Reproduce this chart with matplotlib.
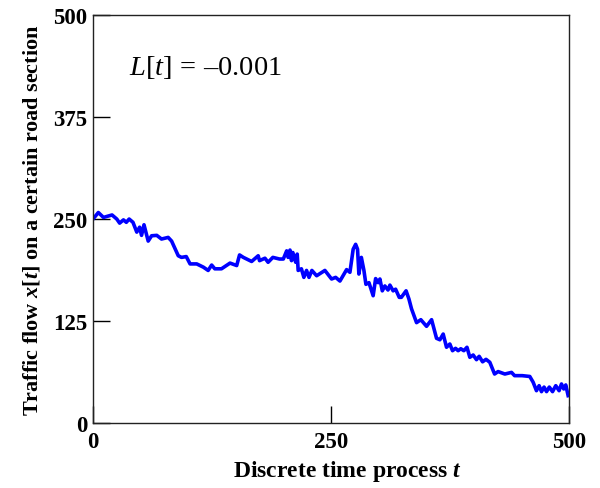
import matplotlib
matplotlib.use("Agg")
import matplotlib.pyplot as plt

plt.rcParams['font.family'] = ['Liberation Serif', 'DejaVu Serif']
plt.rcParams['mathtext.fontset'] = 'custom'
plt.rcParams['mathtext.rm'] = 'Liberation Serif'
plt.rcParams['mathtext.it'] = 'Liberation Serif:italic'
plt.rcParams['mathtext.bf'] = 'Liberation Serif:bold'
plt.rcParams['mathtext.bfit'] = 'Liberation Serif:italic:bold'

# traffic flow
t = [0, 5.6, 11, 20, 25, 28, 32, 35, 38, 42, 46, 49, 51, 53.6, 58, 61.6, 67, 72, 79, 82.6,
     89.6, 93, 98, 102, 109, 116, 121, 124.7, 128, 135, 144, 151, 154, 158, 166.7, 173.6,
     175, 180.7, 184, 189, 196, 200, 203.5, 205, 207, 208.6, 210, 213, 214.6, 215.6, 219,
     221.6, 224.4, 227, 230, 235, 243.7, 250.7, 255, 259.5, 266.5, 270, 273.4, 276, 278,
     279.4, 282, 284.7, 286.8, 290, 294.4, 297, 299.7, 301.5, 304, 306.7, 310, 312, 315.4,
     318, 321.8, 324, 329, 332, 334.7, 340, 344.5, 350.5, 355.8, 361, 364.5, 368, 371.5,
     375, 377.8, 381, 383.7, 386.5, 389.7, 393, 396, 399.5, 403, 405.8, 409.4, 413, 417,
     422, 425.7, 432.8, 439.8, 443, 451, 459, 462.5, 466, 468.8, 471.3, 474, 476.6, 479.5,
     482.9, 486.3, 489.8, 492.3, 494.7, 496.8, 499.3]
x = [250, 258, 252, 255, 250, 245, 249, 246, 250, 246, 234, 240, 230, 243, 223, 229.5, 230,
     225.5, 227.5, 223, 205, 203, 204, 195, 195, 191, 187, 193.6, 189, 189, 196, 193, 206,
     203, 198, 205, 199, 202, 197, 203, 201, 201, 211, 203, 212, 199, 209, 197, 207, 187,
     189, 178.5, 187, 178.5, 187, 180.5, 187, 176.5, 178.5, 174, 188, 184.7, 213, 219, 213,
     182.6, 203, 187, 170, 172, 156, 177, 172, 176.5, 162, 168, 163, 169, 162, 164, 154,
     154, 162, 152, 140, 123, 126.6, 118.5, 126.6, 103.8, 102, 109, 92.8, 96.8, 88.6, 91.5,
     88.6, 91, 88.6, 92.8, 80.5, 83.3, 77.6, 81.7, 75, 78, 74.4, 60, 63, 60, 62, 58, 58, 57,
     50, 39.6, 45.7, 38.4, 44, 38.4, 44, 38.4, 45.7, 39.6, 47.8, 41.7, 46.6, 33.5]

fig = plt.figure(figsize=(6, 4.89), dpi=100)
ax = fig.add_axes([0.155, 0.133, 0.793, 0.834])

ax.plot(t, x, color='#0000ff', lw=2.6, solid_joinstyle='round')

ax.set_xlim(0, 500)
ax.set_ylim(0, 500)
ax.set_xticks([0, 250, 500])
ax.set_yticks([0, 125, 250, 375, 500])
ax.tick_params(direction='in', length=12, width=1, labelsize=16.5, pad=4)
ax.tick_params(axis='x', pad=6)
for lab in ax.get_xticklabels() + ax.get_yticklabels():
    lab.set_fontweight('bold')
for s in ax.spines.values():
    s.set_linewidth(1)
    s.set_color('#222222')

ax.set_xlabel(r'Discrete time process $\mathbfit{t}$', fontsize=17, fontweight='bold')
ax.xaxis.set_label_coords(0.535, -0.085)
ax.set_ylabel(r'Traffic flow $\mathbfit{x}$[$\mathbfit{t}$] on a certain road section',
              fontsize=16, fontweight='bold', labelpad=8)

ax.text(0.075, 0.875, r'$L[t]\,=\,\endash 0.001$', transform=ax.transAxes,
        fontsize=20.5, va='center', ha='left')

fig.savefig('out.png', dpi=100)
